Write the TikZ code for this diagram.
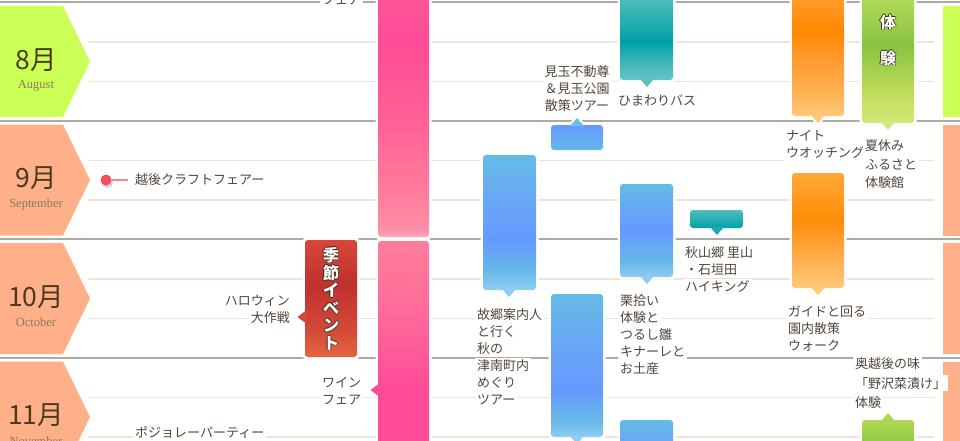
\documentclass[tikz,border=0pt]{standalone}
\usepackage{fontspec}
\newfontfamily\jp{Noto Sans CJK JP}
\newfontfamily\ser{Liberation Serif}
\newcommand\hc[2]{\definecolor{#1}{HTML}{#2}}
\hc{txt}{52463A}\hc{mon}{4A3A1E}\hc{eng}{8A7A5C}\hc{grayl}{ADA9A5}\hc{beige}{EFE3D6}
\hc{lime}{CCFF55}\hc{salmon}{FFB088}\hc{olc}{3A2A1A}\hc{dotred}{F0505A}\hc{dotline}{F08890}
\hc{P1a}{FFA8BF}\hc{P1b}{FF8FA8}\hc{P1c}{FF7F9D}\hc{P1d}{FF6196}\hc{P1e}{FF4B97}\hc{P1f}{FF5A9A}
\hc{P2a}{FF4D98}\hc{P2b}{FF4A98}\hc{P2c}{FF6F9B}\hc{P2d}{FF7C9C}
\hc{R1}{E5653F}\hc{R2}{D44A38}\hc{R3}{C0302E}\hc{R4}{D9473A}
\hc{Bl}{90CCF2}\hc{Bm}{66B8E8}\hc{Bd}{6699FF}\hc{Bn}{68A8F4}\hc{Bt}{66BBE6}\hc{Bp}{6CBDE8}
\hc{T1}{66C4C4}\hc{T2}{3CB4B8}\hc{T3}{00A0A8}\hc{T4}{4CBCBC}\hc{T5}{50BEBE}\hc{Tp}{5CC0C0}\hc{Tq}{20A8B0}
\hc{O1}{FFC878}\hc{O2}{FFB050}\hc{O3}{FF9A30}\hc{O4}{FF8800}\hc{O5}{FF9A28}\hc{O6}{FFA030}\hc{O7}{FF8C08}\hc{O8}{FFA838}
\hc{G1}{D0E878}\hc{G2}{C8E060}\hc{G3}{98CC48}\hc{G4}{88C440}\hc{G5}{B0D858}\hc{G6}{C0E068}\hc{G7}{90C840}\hc{Gp}{D0E880}
\pgfdeclareverticalshading{pk1}{100bp}{color(0bp)=(P1a); color(25bp)=(P1a); color(26.4bp)=(P1b); color(32.2bp)=(P1c); color(47.8bp)=(P1d); color(63.3bp)=(P1e); color(75bp)=(P1f); color(100bp)=(P1f)}
\pgfdeclareverticalshading{pk2}{100bp}{color(0bp)=(P2a); color(25bp)=(P2a); color(43.8bp)=(P2b); color(62.7bp)=(P2c); color(75bp)=(P2d); color(100bp)=(P2d)}
\pgfdeclareverticalshading{rd}{100bp}{color(0bp)=(R1); color(25bp)=(R1); color(36.5bp)=(R2); color(55.8bp)=(R3); color(75bp)=(R4); color(100bp)=(R4)}
\pgfdeclareverticalshading{bl1}{100bp}{color(0bp)=(Bl); color(25bp)=(Bl); color(32.4bp)=(Bm); color(43.5bp)=(Bd); color(58.3bp)=(Bn); color(75bp)=(Bt); color(100bp)=(Bt)}
\pgfdeclareverticalshading{bl2}{100bp}{color(0bp)=(Bl); color(25bp)=(Bl); color(30.9bp)=(Bm); color(41.4bp)=(Bd); color(58.9bp)=(Bn); color(75bp)=(Bt); color(100bp)=(Bt)}
\pgfdeclareverticalshading{bl3}{100bp}{color(0bp)=(Bl); color(25bp)=(Bl); color(33.1bp)=(Bm); color(50.3bp)=(Bd); color(75bp)=(Bt); color(100bp)=(Bt)}
\pgfdeclareverticalshading{bl4}{100bp}{color(0bp)=(Bd); color(25bp)=(Bd); color(58.3bp)=(Bn); color(75bp)=(Bt); color(100bp)=(Bt)}
\pgfdeclareverticalshading{sm1}{100bp}{color(0bp)=(Bm); color(25bp)=(Bm); color(75bp)=(Bd); color(100bp)=(Bd)}
\pgfdeclareverticalshading{tl1}{100bp}{color(0bp)=(T1); color(25bp)=(T1); color(35bp)=(T2); color(44bp)=(T3); color(65bp)=(T4); color(75bp)=(T5); color(100bp)=(T5)}
\pgfdeclareverticalshading{tl2}{100bp}{color(0bp)=(T3); color(25bp)=(T3); color(75bp)=(T5); color(100bp)=(T5)}
\pgfdeclareverticalshading{or1}{100bp}{color(0bp)=(O1); color(25bp)=(O1); color(34.6bp)=(O2); color(45.6bp)=(O3); color(56.6bp)=(O4); color(67.6bp)=(O5); color(75bp)=(O6); color(100bp)=(O6)}
\pgfdeclareverticalshading{or2}{100bp}{color(0bp)=(O1); color(25bp)=(O1); color(37.2bp)=(O2); color(54.6bp)=(O7); color(75bp)=(O8); color(100bp)=(O8)}
\pgfdeclareverticalshading{gr1}{100bp}{color(0bp)=(G1); color(25bp)=(G1); color(33bp)=(G2); color(47bp)=(G3); color(52.3bp)=(G4); color(68bp)=(G5); color(75bp)=(G6); color(100bp)=(G6)}
\pgfdeclareverticalshading{gr2}{100bp}{color(0bp)=(G4); color(25bp)=(G4); color(54bp)=(G7); color(75bp)=(G5); color(100bp)=(G5)}
\setlength{\fboxsep}{2pt}
\newcommand\wb[1]{\colorbox{white}{#1}}
\newcommand\olt[1]{\leavevmode\rlap{\kern0.8pt\textcolor{olc}{#1}}\rlap{\kern-0.8pt\textcolor{olc}{#1}}\rlap{\raisebox{0.8pt}{\textcolor{olc}{#1}}}\rlap{\raisebox{-0.8pt}{\textcolor{olc}{#1}}}\textcolor{white}{#1}}
\newcommand\ghalo[4]{\fill[white, rounded corners=4pt] ({#1-2.5},{#2-2.5}) rectangle ({#3+2.5},{#4+2.5});}
\newcommand\gbar[5]{\shade[shading=#5, rounded corners=3pt] (#1,#2) rectangle (#3,#4);}
\newcommand\pdn[3]{\path[#3] ({#1-7},{#2-1}) -- ({#1+7},{#2-1}) -- (#1,{#2+7}) -- cycle;}
\newcommand\pup[3]{\path[#3] ({#1-7},{#2+1}) -- ({#1+7},{#2+1}) -- (#1,{#2-7}) -- cycle;}
\newcommand\plf[3]{\path[#3] ({#1+1},{#2-6.5}) -- ({#1+1},{#2+6.5}) -- ({#1-7.5},#2) -- cycle;}
\begin{document}
\begin{tikzpicture}[x=1pt,y=-1pt,
  lbl/.style={font=\jp\fontsize{13}{17}\selectfont, text=txt, inner sep=0pt, align=left},
  hal/.style={fill=white, draw=white, line width=4pt, line join=round},
  monf/.style={font=\jp\fontsize{26.5}{26.5}\selectfont, text=mon, inner sep=0pt},
  engf/.style={font=\ser\fontsize{12.5}{12.5}\selectfont, text=eng, inner sep=0pt},
  vert/.style={font=\jp\bfseries\fontsize{16.5}{17.4}\selectfont, align=center, inner sep=0pt}]
\useasboundingbox (0,0) rectangle (960,440);
\fill[white] (0,0) rectangle (960,440);
\clip (0,0) rectangle (960,440);
% grid lines
\foreach \r in {2,120.5,239,357.5}{
  \draw[grayl, line width=2pt] (0,\r) -- (960,\r);
  \draw[beige, line width=1.3pt] (88,\r+40) -- (934,\r+40);
  \draw[beige, line width=1.3pt] (88,\r+79.5) -- (934,\r+79.5);
}
% halos
\ghalo{378}{-20}{429}{237}
\ghalo{378}{241}{429}{480}
\ghalo{305}{240}{357}{357}
\ghalo{483}{155}{536}{290}
\ghalo{551}{125}{603}{150}
\ghalo{551}{294}{603}{437}
\ghalo{620}{-20}{673}{80}
\ghalo{620}{184}{673}{277}
\ghalo{620}{420}{673}{480}
\ghalo{690}{210}{743}{228}
\ghalo{792}{-20}{844}{116}
\ghalo{792}{173}{844}{288}
\ghalo{862}{-20}{914}{123}
\ghalo{862}{420}{914}{480}
\pdn{509}{290}{hal}\pup{577}{125}{hal}\pdn{577}{437}{hal}\pdn{647}{80}{hal}
\pdn{647}{277}{hal}\pdn{717}{228}{hal}\pdn{818}{116}{hal}\pdn{818}{288}{hal}
\pdn{888}{123}{hal}\pup{888}{420}{hal}\plf{378}{390}{hal}\plf{305}{317}{hal}
% bars
\gbar{378}{-20}{429}{237}{pk1}
\gbar{378}{241}{429}{480}{pk2}
\gbar{305}{240}{357}{357}{rd}
\gbar{483}{155}{536}{290}{bl1}
\gbar{551}{125}{603}{150}{sm1}
\gbar{551}{294}{603}{437}{bl2}
\gbar{620}{-20}{673}{80}{tl1}
\gbar{620}{184}{673}{277}{bl3}
\gbar{620}{420}{673}{480}{bl4}
\gbar{690}{210}{743}{228}{tl2}
\gbar{792}{-20}{844}{116}{or1}
\gbar{792}{173}{844}{288}{or2}
\gbar{862}{-20}{914}{123}{gr1}
\gbar{862}{420}{914}{480}{gr2}
% pointers
\pdn{509}{290}{fill=Bl}\pup{577}{125}{fill=Bp}\pdn{577}{437}{fill=Bl}\pdn{647}{80}{fill=Tp}
\pdn{647}{277}{fill=Bl}\pdn{717}{228}{fill=Tq}\pdn{818}{116}{fill=O1}\pdn{818}{288}{fill=O1}
\pdn{888}{123}{fill=Gp}\pup{888}{420}{fill=G5}\plf{378}{390}{fill=P2a}\plf{305}{317}{fill=R2}
% months
\foreach \r/\c/\n/\e in {2/lime/8/August,120.5/salmon/9/September,239/salmon/10/October,357.5/salmon/11/November}{
  \fill[\c] (0,\r+4) -- (63,\r+4) -- (90,\r+59.5) -- (63,\r+115) -- (0,\r+115) -- cycle;
  \fill[\c] (943,\r+4) rectangle (965,\r+115);
  \node[monf] (m\n) at (36,\r+58) {\n{}月};
  \node[engf] (e\n) at (36,\r+83.5) {\e};
}
% bar inner texts
\node[vert] (kisetsu) at (331,298.5) {\olt{季}\\\olt{節}\\\olt{イ}\\\olt{ベ}\\\olt{ン}\\\olt{ト}};
\node[vert, font=\jp\bfseries\fontsize{16}{16}\selectfont] (tai) at (888,22) {\olt{体}};
\node[vert, font=\jp\bfseries\fontsize{16}{16}\selectfont] (ken) at (888,58) {\olt{験}};
% dot item
\fill[black!18] (107.5,182.5) circle (5.5);
\node[circle, fill=dotred, minimum size=11pt, inner sep=0pt] (dot) at (106,180) {};
\node[lbl, anchor=west] (craft) at (133,180) {\wb{越後クラフトフェアー}};
\draw[dotline, line width=1.2pt, shorten >=5pt] (dot.east) -- (craft.west);
% labels
\node[lbl, anchor=north west] (fairtop) at (320,-24.5) {\wb{ワイン}\\\wb{フェア}};
\node[lbl, anchor=north west] (wine) at (320,375.5) {\wb{ワイン}\\\wb{フェア}};
\node[lbl, anchor=north east, align=right] (hallo) at (292,292.5) {\wb{ハロウィン}\\\wb{大作戦}};
\node[lbl, anchor=west] (beaujo) at (133,432) {\wb{ポジョレーパーティー}};
\node[lbl, anchor=north, align=center] (mitama) at (577,63.5) {\wb{見玉不動尊}\\\wb{＆見玉公園}\\\wb{散策ツアー}};
\node[lbl, anchor=west] (himawari) at (616,100) {\wb{ひまわりバス}};
\node[lbl, anchor=north west] (furusato) at (475,306.5) {\wb{故郷案内人}\\\wb{と行く}\\\wb{秋の}\\\wb{津南町内}\\\wb{めぐり}\\\wb{ツアー}};
\node[lbl, anchor=north west] (kuri) at (618,292.5) {\wb{栗拾い}\\\wb{体験と}\\\wb{つるし雛}\\\wb{キナーレと}\\\wb{お土産}};
\node[lbl, anchor=north west] (akiyama) at (683,244.5) {\wb{秋山郷 里山}\\\wb{・石垣田}\\\wb{ハイキング}};
\node[lbl, anchor=north west] (night) at (784,128.5) {\wb{ナイト}\\\wb{ウオッチング}};
\node[lbl, anchor=north west] (guide) at (786,303.5) {\wb{ガイドと回る}\\\wb{園内散策}\\\wb{ウォーク}};
\node[lbl, anchor=north west, font=\jp\fontsize{13}{18.5}\selectfont] (summer) at (863,137.5) {\wb{夏休み}\\\wb{ふるさと}\\\wb{体験館}};
\node[lbl, anchor=north west, font=\jp\fontsize{13}{19.5}\selectfont] (oku) at (853,355.5) {\wb{奥越後の味}\\\wb{「野沢菜漬け」}\\\wb{体験}};
\end{tikzpicture}
\end{document}
